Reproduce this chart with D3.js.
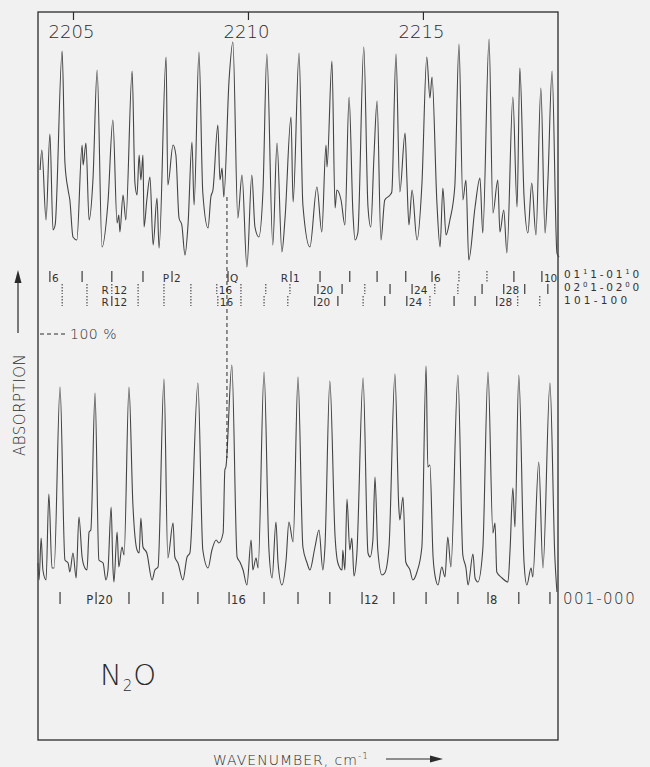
<!DOCTYPE html>
<html><head><meta charset="utf-8">
<script src="https://cdn.jsdelivr.net/npm/d3@7"></script>
<style>
body{margin:0;background:#f1f1f1;}
svg{display:block;background:#f1f1f1;}
text{font-family:"DejaVu Sans",sans-serif;fill:#2b2b2b;font-weight:200;}
text.sm{font-weight:400;fill:#333;}
</style></head>
<body><svg id="c" width="650" height="767"></svg>
<script>
// ---------- DATA ----------
const axisTicks = [2205, 2210, 2215];

// upper trace (hot bands), wavenumber (cm-1) and absorption (arb. chart units)
const topWn = [2204.06,2204.11,2204.23,2204.34,2204.43,2204.49,2204.69,2204.77,2204.86,2204.91,
2205.00,2205.11,2205.26,2205.29,2205.37,2205.46,2205.57,2205.69,2205.83,2206.00,
2206.14,2206.26,2206.31,2206.34,2206.43,2206.51,2206.69,2206.77,2206.83,2206.89,
2206.94,2207.00,2207.03,2207.11,2207.20,2207.29,2207.40,2207.46,2207.66,2207.71,
2207.86,2207.94,2208.03,2208.11,2208.20,2208.29,2208.40,2208.46,2208.60,2208.71,
2208.86,2208.94,2209.00,2209.14,2209.20,2209.26,2209.31,2209.46,2209.57,2209.71,
2209.83,2209.97,2210.11,2210.20,2210.31,2210.43,2210.54,2210.71,2210.83,2210.97,
2211.06,2211.23,2211.29,2211.46,2211.57,2211.77,2211.97,2212.11,2212.23,2212.26,
2212.40,2212.49,2212.54,2212.66,2212.77,2212.89,2213.00,2213.06,2213.14,2213.31,
2213.43,2213.51,2213.60,2213.69,2213.80,2213.91,2214.06,2214.11,2214.23,2214.34,
2214.49,2214.54,2214.60,2214.69,2214.83,2214.97,2215.11,2215.20,2215.26,2215.40,
2215.49,2215.57,2215.66,2215.77,2215.91,2216.03,2216.14,2216.23,2216.31,2216.49,
2216.63,2216.71,2216.89,2217.00,2217.14,2217.20,2217.31,2217.40,2217.57,2217.69,
2217.77,2217.89,2218.00,2218.11,2218.23,2218.37,2218.49,2218.57,2218.69,2218.83,
2218.89];
const topAbs = [92,112,42,128,32,37,211,99,72,62,
25,22,117,97,119,42,82,192,15,60,
142,39,47,30,67,42,191,79,67,107,
82,107,35,62,85,17,64,14,205,77,
117,107,44,37,7,39,120,57,210,69,
34,65,72,137,82,94,65,182,220,44,
87,-5,87,35,25,72,208,17,119,10,
44,145,60,209,57,15,75,30,117,95,
201,54,72,62,37,165,49,22,29,215,
55,35,105,161,22,62,67,70,208,70,
129,85,37,72,22,77,205,164,185,59,
15,74,27,42,75,218,62,82,2,55,
84,29,223,49,82,30,52,9,165,55,
194,65,29,79,27,174,29,80,191,9,
5];

// lower trace (001-000 fundamental)
const botWn = [2204.00,2204.03,2204.09,2204.14,2204.23,2204.31,2204.40,2204.46,2204.63,2204.77,
2204.86,2204.91,2205.00,2205.09,2205.17,2205.26,2205.34,2205.40,2205.46,2205.51,
2205.63,2205.74,2205.86,2205.94,2206.00,2206.09,2206.14,2206.17,2206.26,2206.31,
2206.40,2206.46,2206.60,2206.71,2206.83,2206.89,2206.94,2207.00,2207.11,2207.26,
2207.34,2207.43,2207.60,2207.71,2207.86,2207.91,2208.00,2208.14,2208.26,2208.34,
2208.57,2208.71,2208.86,2208.97,2209.09,2209.17,2209.29,2209.34,2209.37,2209.54,
2209.69,2209.77,2209.86,2209.97,2210.09,2210.14,2210.23,2210.29,2210.46,2210.60,
2210.69,2210.80,2210.86,2210.97,2211.09,2211.17,2211.29,2211.43,2211.57,2211.69,
2211.77,2211.91,2212.03,2212.14,2212.20,2212.34,2212.49,2212.57,2212.69,2212.71,
2212.77,2212.83,2212.91,2212.97,2213.03,2213.11,2213.29,2213.43,2213.49,2213.57,
2213.63,2213.71,2213.83,2213.91,2214.03,2214.20,2214.31,2214.34,2214.43,2214.51,
2214.63,2214.71,2214.83,2214.97,2215.09,2215.14,2215.20,2215.29,2215.37,2215.43,
2215.54,2215.63,2215.71,2215.80,2216.00,2216.14,2216.23,2216.29,2216.43,2216.49,
2216.57,2216.71,2216.86,2217.00,2217.06,2217.11,2217.26,2217.43,2217.49,2217.57,
2217.63,2217.74,2217.89,2217.97,2218.09,2218.14,2218.31,2218.43,2218.63,2218.77,
2218.83];
const botAbs = [27,10,52,20,10,96,22,22,203,30,
27,18,37,12,73,33,22,20,58,60,
197,30,27,10,20,83,23,8,58,23,
43,35,203,87,40,37,72,43,37,10,
20,23,211,32,67,33,27,10,33,37,
207,40,22,40,50,47,57,120,123,225,
33,28,20,5,50,20,32,22,218,40,
12,68,27,5,30,68,48,213,43,27,
20,42,60,20,43,209,53,27,20,40,
20,91,40,52,14,35,212,37,33,50,
113,40,15,17,43,216,83,70,93,28,
20,10,18,43,224,123,125,33,10,5,
23,13,53,23,215,35,22,5,36,12,
8,40,218,57,67,18,12,8,40,102,
63,215,27,5,22,13,128,22,207,33,
-2];

// line-assignment rows: wavenumber, label ("pre|post"), dotted flag
const row1Wn = [2204.34,2205.26,2206.11,2207.00,2207.83,2209.43,2211.23,2212.06,2212.91,2213.69,2214.51,2215.26,2216.03,2216.83,2217.60,2218.40];
const row1Lab = ["|6","","","","P|2","|Q","R|1","","","","","|6","","","","|10"];
const row1Dot = [0,0,0,0,0,0,0,0,0,0,0,0,1,1,0,0];

const row2Wn = [2204.69,2205.40,2206.11,2206.86,2207.60,2208.37,2209.11,2209.80,2210.51,2211.20,2212.00,2212.69,2213.34,2214.06,2214.69,2215.34,2216.00,2216.69,2217.31,2217.91,2218.57];
const row2Lab = ["","","R|12","","","","|16","","","","|20","","","","|24","","","","|28","",""];
const row2Dot = [1,1,1,1,1,1,1,1,1,1,0,0,1,0,0,1,1,0,0,0,0];

const row3Wn = [2204.69,2205.40,2206.11,2206.86,2207.60,2208.37,2209.14,2209.80,2210.46,2211.14,2211.91,2212.57,2213.29,2213.91,2214.54,2215.20,2215.89,2216.49,2217.11,2217.71,2218.34];
const row3Lab = ["","","R|12","","","","|16","","","","|20","","","","|24","","","","|28","",""];
const row3Dot = [1,1,0,1,1,1,1,1,1,1,0,0,1,0,0,1,0,0,0,1,1];

const row4Wn = [2204.63,2205.66,2206.60,2207.57,2208.57,2209.46,2210.46,2211.43,2212.34,2213.26,2214.17,2215.09,2216.00,2216.86,2217.74,2218.63];
const row4Lab = ["","P|20","","","","|16","","","","|12","","","","|8","",""];

const qLineWn = 2209.40;

// ---------- CHART ----------
const svg = d3.select("#c");
const x = d3.scaleLinear().domain([2204.0, 2218.86]).range([38, 558]);
const yTop = d3.scaleLinear().domain([0, 230]).range([262, 32]);
const yBot = d3.scaleLinear().domain([0, 230]).range([590, 360]);
const ink = "#2b2b2b";

// frame
svg.append("rect").attr("x", 38).attr("y", 12).attr("width", 520).attr("height", 728)
  .attr("fill", "none").attr("stroke", ink).attr("stroke-width", 1.3);

// top axis
const ax = svg.append("g").attr("transform", "translate(0,12)")
  .call(d3.axisBottom(x).tickValues(axisTicks).tickSize(8).tickPadding(5).tickFormat(d3.format("d")));
ax.select(".domain").remove();
ax.selectAll("line").attr("stroke", ink).attr("stroke-width", 1.2);
ax.selectAll("text").attr("font-size", 18).attr("fill", ink).attr("dx", -2)
  .style("font-family", '"DejaVu Sans",sans-serif').style("font-weight", 200);

// traces
const line = y => d3.line().x(d => x(d[0])).y(d => y(d[1])).curve(d3.curveMonotoneX);
svg.append("path").datum(d3.zip(topWn, topAbs)).attr("d", line(yTop))
  .attr("fill", "none").attr("stroke", "#444").attr("stroke-width", 1.1).attr("stroke-linejoin", "round");
svg.append("path").datum(d3.zip(botWn, botAbs)).attr("d", line(yBot))
  .attr("fill", "none").attr("stroke", "#444").attr("stroke-width", 1.1).attr("stroke-linejoin", "round");

// Q-branch connector
svg.append("line").attr("x1", x(qLineWn)).attr("x2", x(qLineWn)).attr("y1", 197).attr("y2", 458)
  .attr("stroke", ink).attr("stroke-width", 1).attr("stroke-dasharray", "4,3");

// assignment rows
function drawRow(wns, labs, dots, y0, y1, fs) {
  const g = svg.append("g");
  wns.forEach((w, i) => {
    const xx = x(w);
    g.append("line").attr("x1", xx).attr("x2", xx).attr("y1", y0).attr("y2", y1)
      .attr("stroke", ink).attr("stroke-width", dots && dots[i] ? 1 : 1.1)
      .attr("stroke-dasharray", dots && dots[i] ? "1.5,1.5" : null);
    const lab = labs[i];
    if (lab) {
      const [pre, post] = lab.split("|");
      if (pre) g.append("text").attr("class", "sm").attr("x", xx - 3).attr("y", y1).attr("text-anchor", "end")
        .attr("font-size", fs).text(pre);
      if (post) g.append("text").attr("class", "sm").attr("x", xx + 2).attr("y", y1).attr("font-size", fs).text(post);
    }
  });
}
drawRow(row1Wn, row1Lab, row1Dot, 271, 282, 10.5);
drawRow(row2Wn, row2Lab, row2Dot, 284, 294, 10.5);
drawRow(row3Wn, row3Lab, row3Dot, 296, 306, 10.5);
drawRow(row4Wn, row4Lab, null, 592, 604, 11.5);

// band labels on the right
function band(yb, parts, ls) {
  const t = svg.append("text").attr("class", "sm").attr("x", 564).attr("y", yb)
    .attr("font-size", 10.5).attr("letter-spacing", ls);
  parts.forEach(p => {
    const s = t.append("tspan").text(p[0]);
    if (p[1]) s.attr("font-size", 7).attr("baseline-shift", "super");
  });
}
band(278, [["01"],["1",1],["1-01"],["1",1],["0"]], 2.8);
band(291, [["02"],["0",1],["1-02"],["0",1],["0"]], 2.8);
band(304, [["101-100"]], 3.2);
svg.append("text").attr("x", 563).attr("y", 604).attr("font-size", 15).attr("letter-spacing", 1.5).text("001-000");

// 100 % marker
svg.append("line").attr("x1", 40).attr("x2", 66).attr("y1", 334).attr("y2", 334)
  .attr("stroke", ink).attr("stroke-dasharray", "4,3");
svg.append("text").attr("x", 70).attr("y", 339).attr("font-size", 14).attr("letter-spacing", 0.5).text("100 %");

// ABSORPTION with arrow
svg.append("text").attr("transform", "translate(25,456) rotate(-90)").attr("font-size", 15)
  .attr("letter-spacing", 0.5).text("ABSORPTION");
svg.append("line").attr("x1", 18).attr("x2", 18).attr("y1", 333).attr("y2", 280).attr("stroke", ink).attr("stroke-width", 1.2);
svg.append("path").attr("d", "M18,270 L14.5,283 L21.5,283 Z").attr("fill", ink);

// N2O
const n2o = svg.append("text").attr("x", 100).attr("y", 685).attr("font-size", 29).attr("letter-spacing", 1);
n2o.append("tspan").text("N");
n2o.append("tspan").attr("font-size", 15).attr("dy", 6).text("2");
n2o.append("tspan").attr("dy", -6).text("O");

// x label
const xl = svg.append("text").attr("x", 213).attr("y", 765).attr("font-size", 14).attr("letter-spacing", 1);
xl.append("tspan").text("WAVENUMBER, cm");
xl.append("tspan").attr("font-size", 9).attr("dy", -6).text("-1");
svg.append("line").attr("x1", 386).attr("x2", 432).attr("y1", 759).attr("y2", 759).attr("stroke", ink).attr("stroke-width", 1.2);
svg.append("path").attr("d", "M443,759 L430,755.5 L430,762.5 Z").attr("fill", ink);
</script>
</body></html>
